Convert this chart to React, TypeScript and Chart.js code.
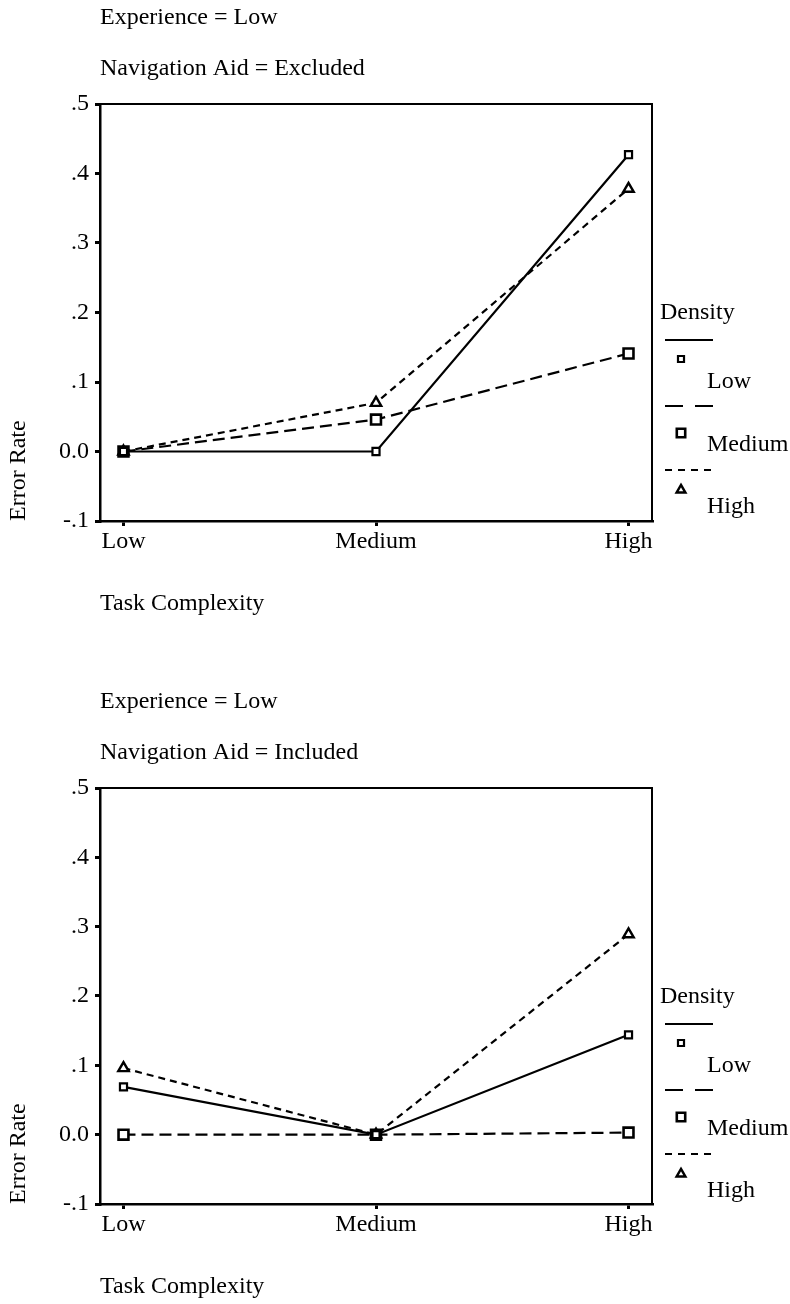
import React, { useEffect, useRef } from 'react';
import { Chart, registerables } from 'chart.js';

Chart.register(...registerables);

// ---- data ----
const taskComplexity = ['Low', 'Medium', 'High'];
const densityLevels = ['Low', 'Medium', 'High'];
const yTickValues = [-0.1, 0, 0.1, 0.2, 0.3, 0.4, 0.5];

// Navigation Aid = Excluded
const excludedLow = [0, 0, 0.427];
const excludedMedium = [0, 0.046, 0.141];
const excludedHigh = [0, 0.07, 0.378];

// Navigation Aid = Included
const includedLow = [0.069, 0, 0.144];
const includedMedium = [0, 0, 0.003];
const includedHigh = [0.096, 0, 0.289];

const FONT_FAMILY = '"Liberation Serif", "Times New Roman", serif';
const FONT_SIZE = 24;

const seriesStyles = [
  { dash: [] as number[], legendDash: [] as number[], point: 'rect', radius: 5, bw: 2.2 },
  { dash: [12, 6], legendDash: [18, 12], point: 'rect', radius: 7, bw: 2.6 },
  { dash: [7, 5], legendDash: [7, 6], point: 'triangle', radius: 6, bw: 2.4 },
];

function drawMarker(ctx: CanvasRenderingContext2D, style: string, r: number, x: number, y: number, bw: number) {
  ctx.save();
  ctx.setLineDash([]);
  ctx.lineWidth = bw;
  ctx.strokeStyle = '#000';
  ctx.fillStyle = '#fff';
  ctx.beginPath();
  if (style === 'rect') {
    const s = Math.SQRT1_2 * r;
    ctx.rect(x - s, y - s, 2 * s, 2 * s);
  } else {
    let rad = 0;
    ctx.moveTo(x + Math.sin(rad) * r, y - Math.cos(rad) * r);
    rad += (2 * Math.PI) / 3;
    ctx.lineTo(x + Math.sin(rad) * r, y - Math.cos(rad) * r);
    rad += (2 * Math.PI) / 3;
    ctx.lineTo(x + Math.sin(rad) * r, y - Math.cos(rad) * r);
    ctx.closePath();
  }
  ctx.fill();
  ctx.stroke();
  ctx.restore();
}

function makeDecorPlugin(experience: string, navAid: string) {
  return {
    id: 'decor',
    afterDraw(chart: any) {
      const ctx: CanvasRenderingContext2D = chart.ctx;
      const { left, right, top, bottom } = chart.chartArea;
      ctx.save();
      // frame top & right
      ctx.strokeStyle = '#000';
      ctx.lineWidth = 2;
      ctx.setLineDash([]);
      ctx.beginPath();
      ctx.moveTo(left, top);
      ctx.lineTo(right, top);
      ctx.lineTo(right, bottom);
      ctx.stroke();

      // titles
      ctx.fillStyle = '#000';
      ctx.font = `${FONT_SIZE}px ${FONT_FAMILY}`;
      ctx.textAlign = 'left';
      ctx.textBaseline = 'middle';
      ctx.fillText(`Experience = ${experience}`, left, top - 86);
      ctx.fillText(`Navigation Aid = ${navAid}`, left, top - 35);

      // legend
      const lx = right + 8;
      ctx.fillText('Density', lx, top + 209);
      const lineX0 = right + 13;
      const lineX1 = right + 61;
      const rows = [
        { line: 236, marker: 255, text: 278 },
        { line: 302, marker: 329, text: 341 },
        { line: 366, marker: 386, text: 403 },
      ];
      rows.forEach((row, i) => {
        const st = seriesStyles[i];
        ctx.save();
        ctx.lineWidth = 2;
        ctx.strokeStyle = '#000';
        ctx.setLineDash(st.legendDash);
        ctx.beginPath();
        ctx.moveTo(lineX0, top + row.line);
        ctx.lineTo(lineX1, top + row.line);
        ctx.stroke();
        ctx.restore();
        drawMarker(ctx, st.point, st.radius * 0.85, right + 29, top + row.marker, st.bw);
        ctx.fillStyle = '#000';
        ctx.font = `${FONT_SIZE}px ${FONT_FAMILY}`;
        ctx.textAlign = 'left';
        ctx.textBaseline = 'middle';
        ctx.fillText(densityLevels[i], right + 55, top + row.text);
      });
      ctx.restore();
    },
  };
}

function formatY(v: number) {
  const n = Math.round(v * 10);
  if (n === 0) return '0.0';
  return (n < 0 ? '-' : '') + '.' + Math.abs(n);
}

type PanelProps = {
  experience: string;
  navAid: string;
  series: number[][];
  top: number;
  height: number;
  bottomPad: number;
};

function Panel({ experience, navAid, series, top, height, bottomPad }: PanelProps) {
  const ref = useRef<HTMLCanvasElement | null>(null);
  useEffect(() => {
    if (!ref.current) return;
    const font = { family: FONT_FAMILY, size: FONT_SIZE };
    const datasets = series.map((vals, i) => {
      const st = seriesStyles[i];
      return {
        label: densityLevels[i],
        data: taskComplexity.map((_, j) => ({ x: j, y: vals[j] })),
        borderColor: '#000',
        borderWidth: 2.2,
        borderDash: st.dash,
        backgroundColor: '#fff',
        pointStyle: st.point,
        pointRadius: st.radius,
        pointBorderWidth: st.bw,
        pointBorderColor: '#000',
        pointBackgroundColor: '#fff',
        tension: 0,
        fill: false,
        clip: false,
      };
    });
    const chart = new Chart(ref.current, {
      type: 'line',
      data: { datasets } as any,
      options: {
        responsive: false,
        animation: false,
        devicePixelRatio: 1,
        layout: { padding: { top: 104, left: 0, right: 138, bottom: bottomPad } },
        plugins: {
          legend: { display: false },
          tooltip: { enabled: false },
          title: { display: false },
        },
        scales: {
          x: {
            type: 'linear',
            min: -0.093,
            max: 2.093,
            afterBuildTicks: (s: any) => {
              s.ticks = taskComplexity.map((_, i) => ({ value: i }));
            },
            afterFit: (s: any) => {
              s.height = 100;
            },
            grid: { drawOnChartArea: false, drawTicks: true, tickLength: 5, lineWidth: 3, color: '#000' },
            border: { display: true, color: '#000', width: 2.5 },
            ticks: {
              callback: (v: any) => taskComplexity[v] ?? '',
              color: '#000',
              font,
              padding: 1,
              maxRotation: 0,
              autoSkip: false,
            },
            title: {
              display: true,
              text: 'Task Complexity',
              align: 'start',
              color: '#000',
              font,
              padding: { top: 0, bottom: 3 },
            },
          },
          y: {
            type: 'linear',
            min: -0.1,
            max: 0.5,
            afterBuildTicks: (s: any) => {
              s.ticks = yTickValues.map((v) => ({ value: v }));
            },
            afterFit: (s: any) => {
              s.width = 100;
            },
            grid: { drawOnChartArea: false, drawTicks: true, tickLength: 5, lineWidth: 3, color: '#000' },
            border: { display: true, color: '#000', width: 2.5 },
            ticks: {
              callback: (v: any) => formatY(Number(v)),
              color: '#000',
              font,
              padding: 6,
              autoSkip: false,
            },
            title: {
              display: true,
              text: 'Error Rate',
              align: 'start',
              color: '#000',
              font,
              padding: { top: 4, bottom: 0 },
            },
          },
        },
      } as any,
      plugins: [makeDecorPlugin(experience, navAid)],
    });
    return () => chart.destroy();
  }, [experience, navAid, series, bottomPad]);

  return (
    <canvas
      ref={ref}
      width={790}
      height={height}
      style={{ position: 'absolute', left: 0, top, display: 'block', width: 790, height }}
    />
  );
}

export default function App() {
  return (
    <div style={{ position: 'absolute', left: 0, top: 0, width: 790, height: 1304, background: '#fff' }}>
      <Panel
        experience="Low"
        navAid="Excluded"
        series={[excludedLow, excludedMedium, excludedHigh]}
        top={0}
        height={684}
        bottomPad={63}
      />
      <Panel
        experience="Low"
        navAid="Included"
        series={[includedLow, includedMedium, includedHigh]}
        top={684}
        height={620}
        bottomPad={0}
      />
    </div>
  );
}
